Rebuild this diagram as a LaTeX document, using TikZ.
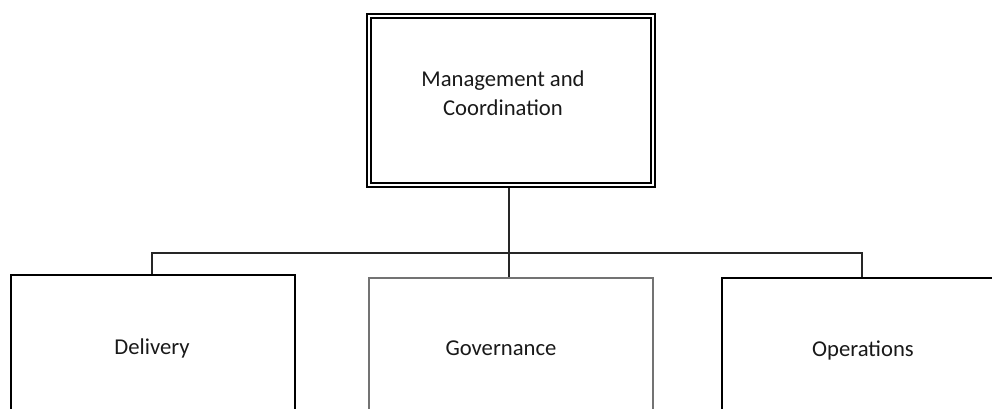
\documentclass[tikz,border=0pt]{standalone}
\usepackage{fontspec}
\setmainfont{Carlito}
\tikzset{
  px/.style={x=0.75pt,y=-0.75pt},
  boxline/.style={draw=black,line width=1.25pt},
  grayline/.style={draw=black!55,line width=1.25pt},
  conn/.style={draw=black!85,line width=1.25pt},
  lbl/.style={font=\fontsize{17}{21.75}\selectfont,align=center,inner sep=0pt,text=black!90}
}
\begin{document}
\begin{tikzpicture}[px]
\useasboundingbox (0,0) rectangle (992,409);
\clip (0,0) rectangle (992,409);
% top double-bordered box
\node[boxline,minimum width=288*0.75pt,minimum height=173*0.75pt,inner sep=0pt,anchor=north west] (mgmtout) at (366,13) {};
\node[boxline,minimum width=280*0.75pt,minimum height=165*0.75pt,inner sep=0pt,anchor=north west] (mgmt) at (370,17) {};
\node[lbl] (mgmttext) at (503,93) {Management and\\Coordination};
% bottom boxes
\node[boxline,minimum width=284*0.75pt,minimum height=160*0.75pt,inner sep=0pt,anchor=north west] (del) at (10,274) {};
\node[grayline,minimum width=284*0.75pt,minimum height=160*0.75pt,inner sep=0pt,anchor=north west] (gov) at (368,277) {};
\node[boxline,minimum width=284*0.75pt,minimum height=160*0.75pt,inner sep=0pt,anchor=north west] (ops) at (721,277) {};
\node[lbl] (deltext) at (152,348) {Delivery};
\node[lbl] (govtext) at (501,348) {Governance};
\node[lbl] (opstext) at (863,350) {Operations};
% connectors
\coordinate (bus) at (509,253);
\draw[conn] (mgmtout.south -| bus) -- (bus);
\draw[conn] (bus) -- (bus -| 152,0) -- (del.north -| 152,0);
\draw[conn] (bus) -- (bus -| 862,0) -- (ops.north -| 862,0);
\draw[conn] (bus) -- (gov.north -| bus);
\end{tikzpicture}
\end{document}
